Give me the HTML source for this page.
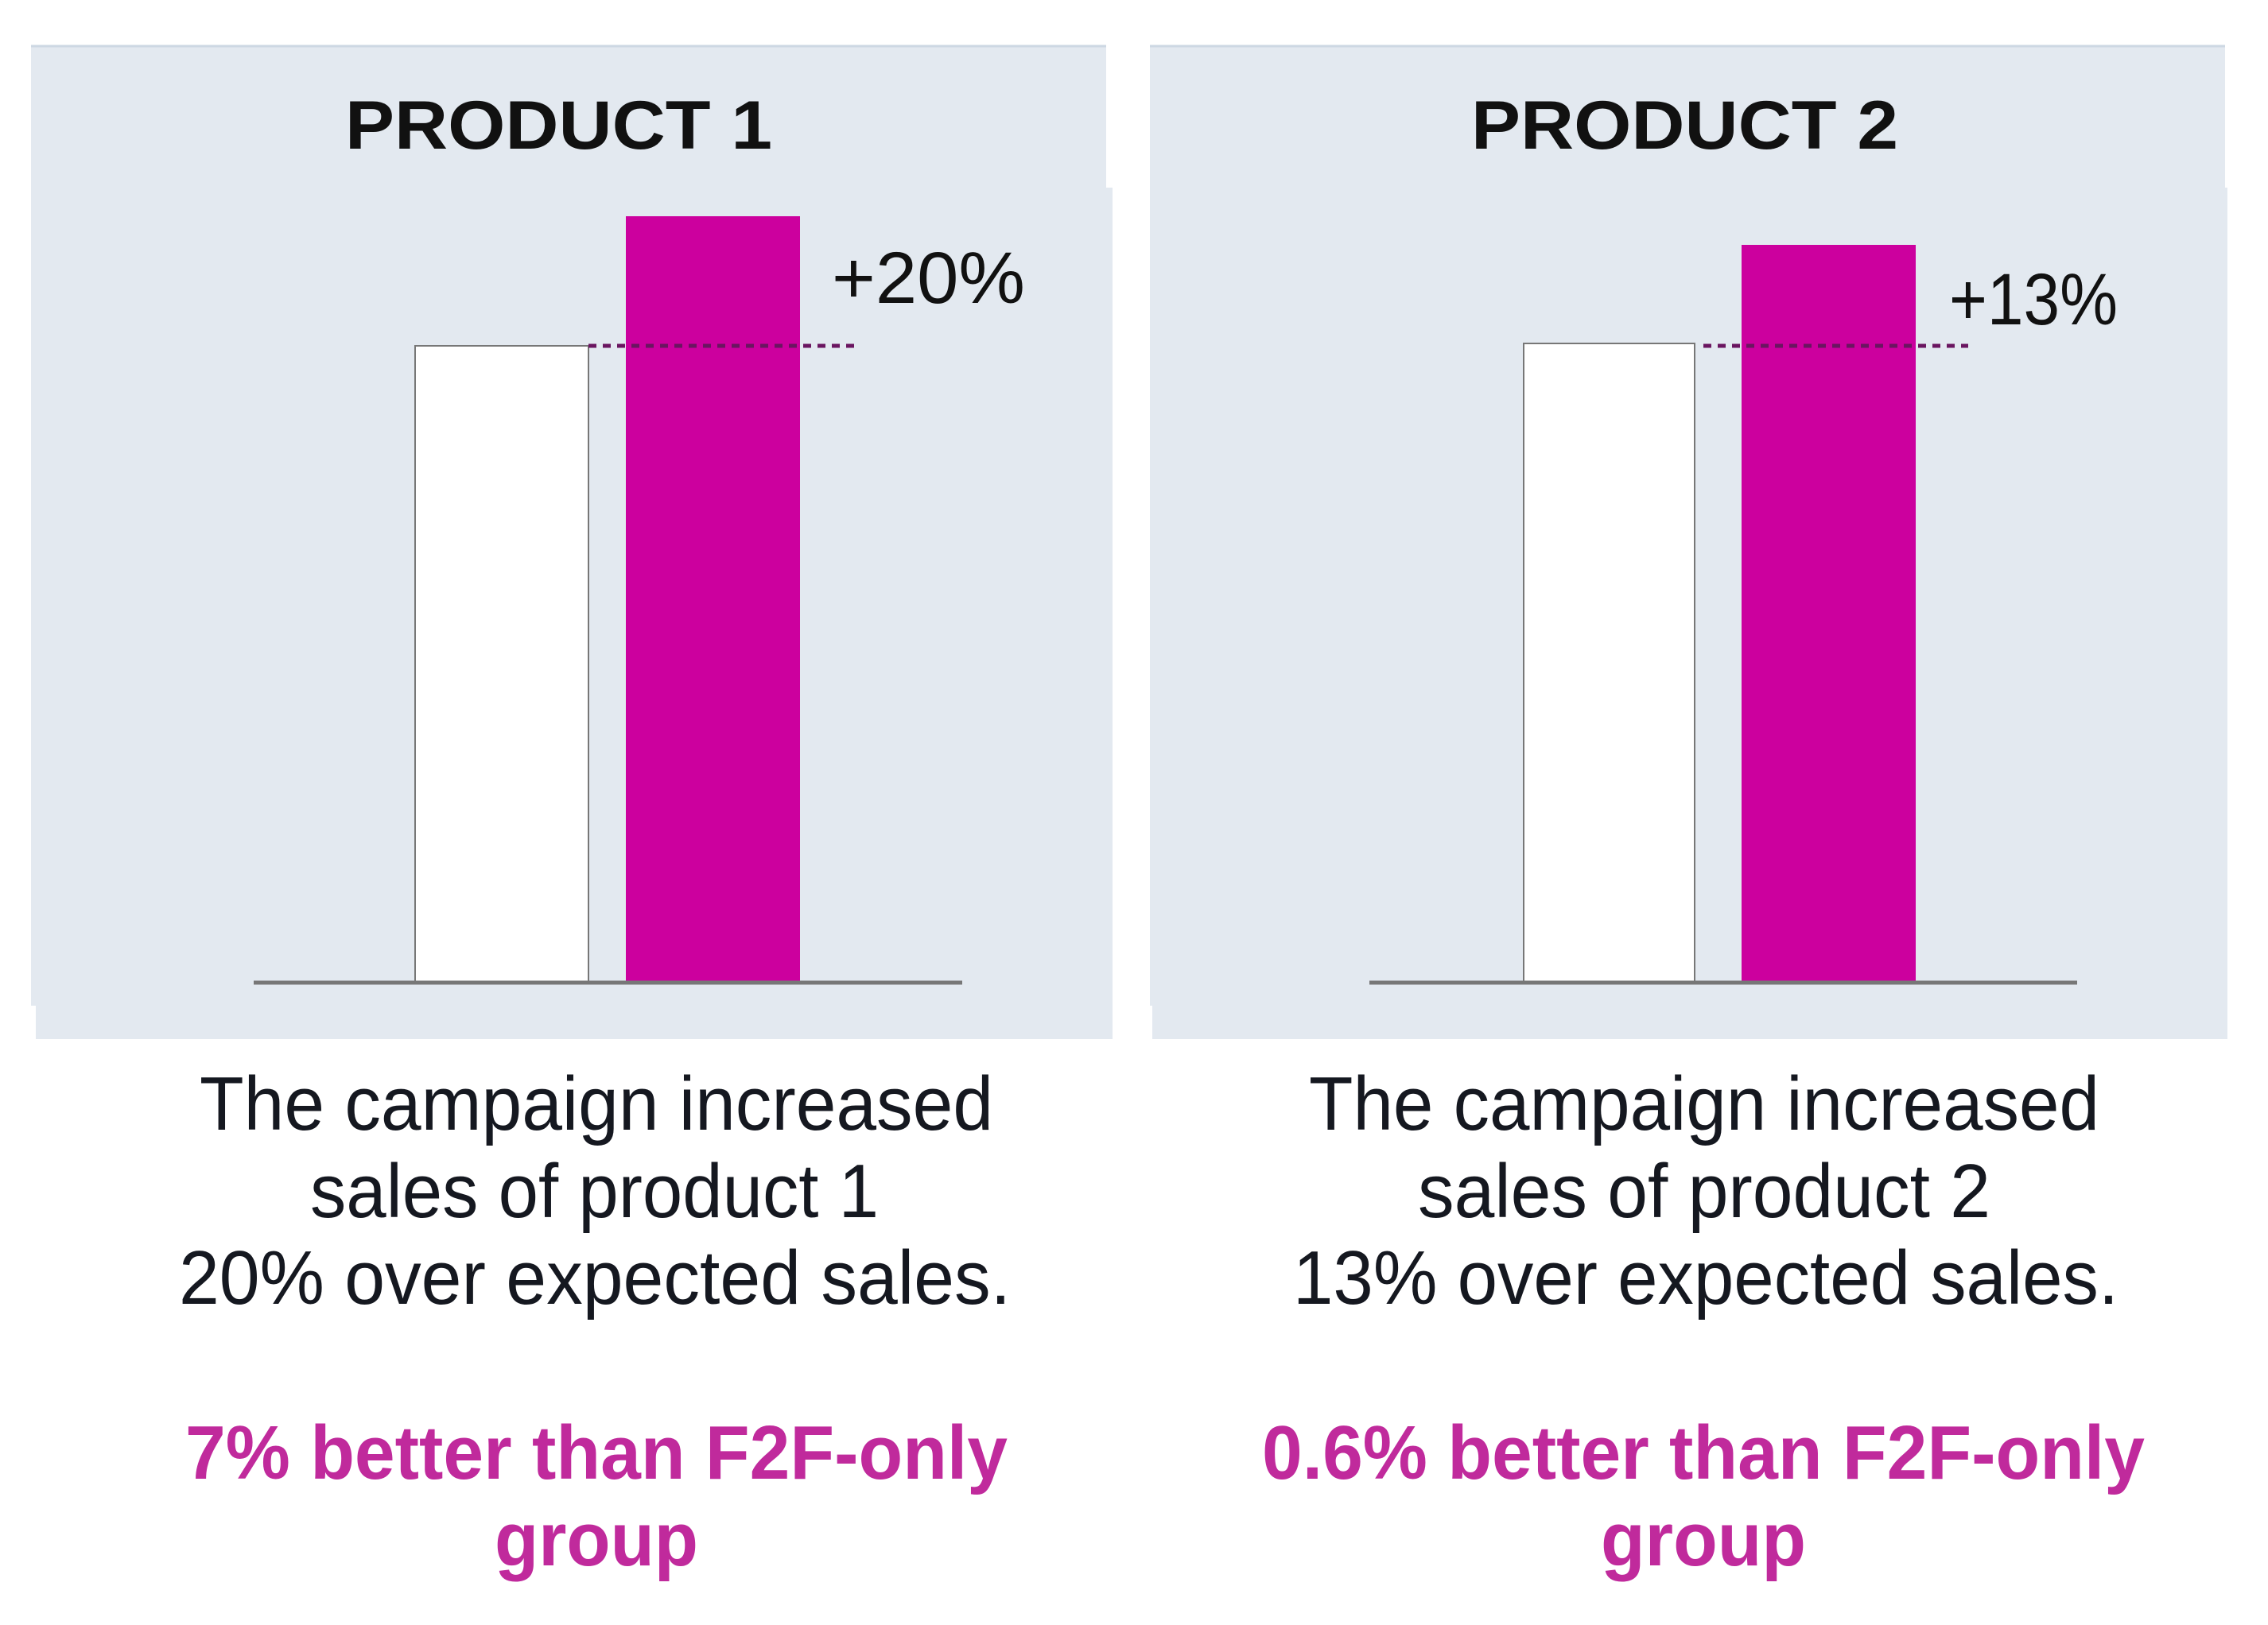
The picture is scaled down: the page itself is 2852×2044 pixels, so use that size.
<!DOCTYPE html>
<html><head><meta charset="utf-8"><style>
html,body{margin:0;padding:0;background:#fff;}
svg{display:block;}
</style></head><body>
<svg width="2852" height="2044" viewBox="0 0 2852 2044" xmlns="http://www.w3.org/2000/svg">
<rect width="2852" height="2044" fill="#fff"/>
<g transform="translate(-5,-5)">
<!-- panel 1 -->
<rect x="44" y="62" width="1352" height="1208" fill="#e3e9f0"/>
<rect x="50" y="241" width="1354" height="1071" fill="#e3e9f0"/>
<line x1="44" y1="63" x2="1396" y2="63" stroke="#cdd8e3" stroke-width="3"/>
<!-- panel 2 -->
<g transform="translate(-6,0)">
<rect x="1457" y="62" width="1352" height="1208" fill="#e3e9f0"/>
<rect x="1460" y="241" width="1352" height="1071" fill="#e3e9f0"/>
<line x1="1457" y1="63" x2="2809" y2="63" stroke="#cdd8e3" stroke-width="3"/>
</g>

<g font-family="'Liberation Sans', sans-serif">
<text x="439" y="192" font-size="86" font-weight="bold" fill="#111" textLength="537" lengthAdjust="spacingAndGlyphs">PRODUCT 1</text>
<text x="1855" y="192" font-size="86" font-weight="bold" fill="#111" textLength="537" lengthAdjust="spacingAndGlyphs">PRODUCT 2</text>

<!-- chart 1 -->
<rect x="527" y="440" width="218" height="800" fill="#fff" stroke="#777" stroke-width="2"/>
<rect x="792" y="277" width="219" height="963" fill="#cc009e"/>
<line x1="745" y1="440" x2="1079" y2="440" stroke="#6a1560" stroke-width="5" stroke-dasharray="10 8"/>
<line x1="324" y1="1241" x2="1215" y2="1241" stroke="#777" stroke-width="5"/>
<text x="1051" y="386" font-size="92" fill="#111" textLength="243" lengthAdjust="spacingAndGlyphs">+20%</text>

<!-- chart 2 -->
<g transform="translate(-6,0)">
<rect x="1927" y="437" width="215" height="803" fill="#fff" stroke="#777" stroke-width="2"/>
<rect x="2201" y="313" width="219" height="927" fill="#cc009e"/>
<line x1="2153" y1="440" x2="2486" y2="440" stroke="#6a1560" stroke-width="5" stroke-dasharray="10 8"/>
<line x1="1733" y1="1241" x2="2623" y2="1241" stroke="#777" stroke-width="5"/>
<text x="2462" y="413" font-size="92" fill="#111" textLength="212" lengthAdjust="spacingAndGlyphs">+13%</text>
</g>

<!-- captions -->
<g font-size="96" fill="#151820">
<text x="256" y="1426" textLength="998" lengthAdjust="spacingAndGlyphs">The campaign increased</text>
<text x="395" y="1536" textLength="715" lengthAdjust="spacingAndGlyphs">sales of product 1</text>
<text x="230" y="1645" textLength="1046" lengthAdjust="spacingAndGlyphs">20% over expected sales.</text>
<text x="1651" y="1426" textLength="994" lengthAdjust="spacingAndGlyphs">The campaign increased</text>
<text x="1788" y="1536" textLength="720" lengthAdjust="spacingAndGlyphs">sales of product 2</text>
<text x="1631" y="1645" textLength="1038" lengthAdjust="spacingAndGlyphs">13% over expected sales.</text>
</g>
<g font-size="96" font-weight="bold" fill="#c02a9c">
<text x="238" y="1865" textLength="1034" lengthAdjust="spacingAndGlyphs">7% better than F2F-only</text>
<text x="627" y="1974" textLength="256" lengthAdjust="spacingAndGlyphs">group</text>
<text x="1592" y="1865" textLength="1110" lengthAdjust="spacingAndGlyphs">0.6% better than F2F-only</text>
<text x="2018" y="1974" textLength="258" lengthAdjust="spacingAndGlyphs">group</text>
</g>
</g>
</g>
</svg>
</body></html>
